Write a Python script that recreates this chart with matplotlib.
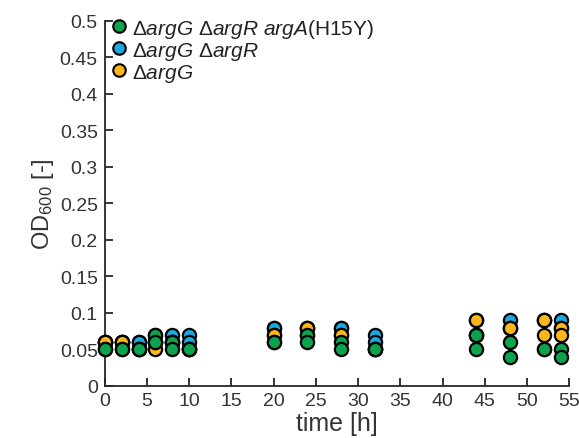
import matplotlib
matplotlib.use("Agg")
import matplotlib.pyplot as plt
from matplotlib.lines import Line2D
import numpy as np

plt.rcParams['font.family'] = ['Liberation Sans', 'DejaVu Sans']
plt.rcParams['mathtext.fontset'] = 'custom'
plt.rcParams['mathtext.rm'] = 'Liberation Sans'
plt.rcParams['mathtext.it'] = 'Liberation Sans:italic'
plt.rcParams['mathtext.bf'] = 'Liberation Sans:bold'

time = [0, 2, 4, 6, 8, 10, 20, 24, 28, 32, 44, 48, 52, 54]

green_rep1 = [0.05, 0.05, 0.05, 0.07, 0.06, 0.05, 0.06, 0.07, 0.06, 0.05, 0.07, 0.06, 0.05, 0.05]
green_rep2 = [0.05, 0.05, 0.05, 0.06, 0.05, 0.05, 0.06, 0.06, 0.05, 0.05, 0.05, 0.04, 0.05, 0.04]
blue_rep1 = [0.06, 0.06, 0.06, 0.07, 0.07, 0.07, 0.08, 0.08, 0.08, 0.07, 0.07, 0.09, 0.09, 0.09]
blue_rep2 = [0.06, 0.06, 0.06, 0.06, 0.06, 0.06, 0.08, 0.07, 0.08, 0.06, 0.07, 0.08, 0.09, 0.08]
yellow_rep1 = [0.06, 0.06, 0.05, 0.05, 0.06, 0.05, 0.07, 0.08, 0.07, 0.05, 0.09, 0.08, 0.09, 0.08]
yellow_rep2 = [0.06, 0.06, 0.05, 0.06, 0.06, 0.05, 0.07, 0.08, 0.07, 0.05, 0.09, 0.08, 0.07, 0.07]

labels = [r'$\Delta\mathit{argG}$ $\Delta\mathit{argR}$ $\mathit{argA}$(H15Y)',
          r'$\Delta\mathit{argG}$ $\Delta\mathit{argR}$',
          r'$\Delta\mathit{argG}$']

c_green = '#0BA34D'
c_blue = '#1CA9E1'
c_yellow = '#FBB61A'
axis_col = '#262626'

fig = plt.figure(figsize=(5.79, 4.39), dpi=100)
ax = fig.add_axes([0.181, 0.1185, 0.802, 0.8315])

t = np.array(time)
series = [(blue_rep1, blue_rep2, c_blue, 3),
          (yellow_rep1, yellow_rep2, c_yellow, 4),
          (green_rep1, green_rep2, c_green, 5)]
for r1, r2, col, z in series:
    a = np.array(r1); b = np.array(r2)
    ax.vlines(t, np.minimum(a, b), np.maximum(a, b), colors='black', lw=1.5, zorder=2)
for r1, r2, col, z in series:
    for r in (r1, r2):
        ax.plot(t, r, linestyle='none', marker='o', ms=9.5, mfc=col, mec='black',
                mew=1.6, zorder=z, clip_on=False)

ax.set_xlim(0, 55)
ax.set_ylim(0, 0.5)
ax.set_xticks(np.arange(0, 56, 5))
ax.set_yticks(np.arange(0, 0.501, 0.05))
ax.set_yticklabels(['0', '0.05', '0.1', '0.15', '0.2', '0.25', '0.3', '0.35', '0.4', '0.45', '0.5'])
for s in ['top', 'right']:
    ax.spines[s].set_visible(False)
for s in ['left', 'bottom']:
    ax.spines[s].set_color(axis_col)
    ax.spines[s].set_linewidth(1.3)
ax.tick_params(direction='in', length=6, width=1.3, colors=axis_col, labelsize=14,
               labelcolor='#333333')
ax.tick_params(axis='x', pad=4)
ax.tick_params(axis='y', pad=5)
ax.set_xlabel('time [h]', fontsize=18, color='#333333', labelpad=2)
ax.set_ylabel(r'OD$_{600}$ [-]', fontsize=17, color='#333333', labelpad=3)

handles = [Line2D([], [], linestyle='none', marker='o', ms=9, mfc=c, mec='black', mew=1.5)
           for c in (c_green, c_blue, c_yellow)]
leg = ax.legend(handles, labels, loc='upper left', bbox_to_anchor=(0.0, 1.035),
                frameon=False, fontsize=15, handlelength=0.6, handletextpad=0.3,
                labelspacing=0.0, borderaxespad=0.2, borderpad=0.2)
for txt in leg.get_texts():
    txt.set_color('#222222')

fig.savefig('out.png', dpi=100)
